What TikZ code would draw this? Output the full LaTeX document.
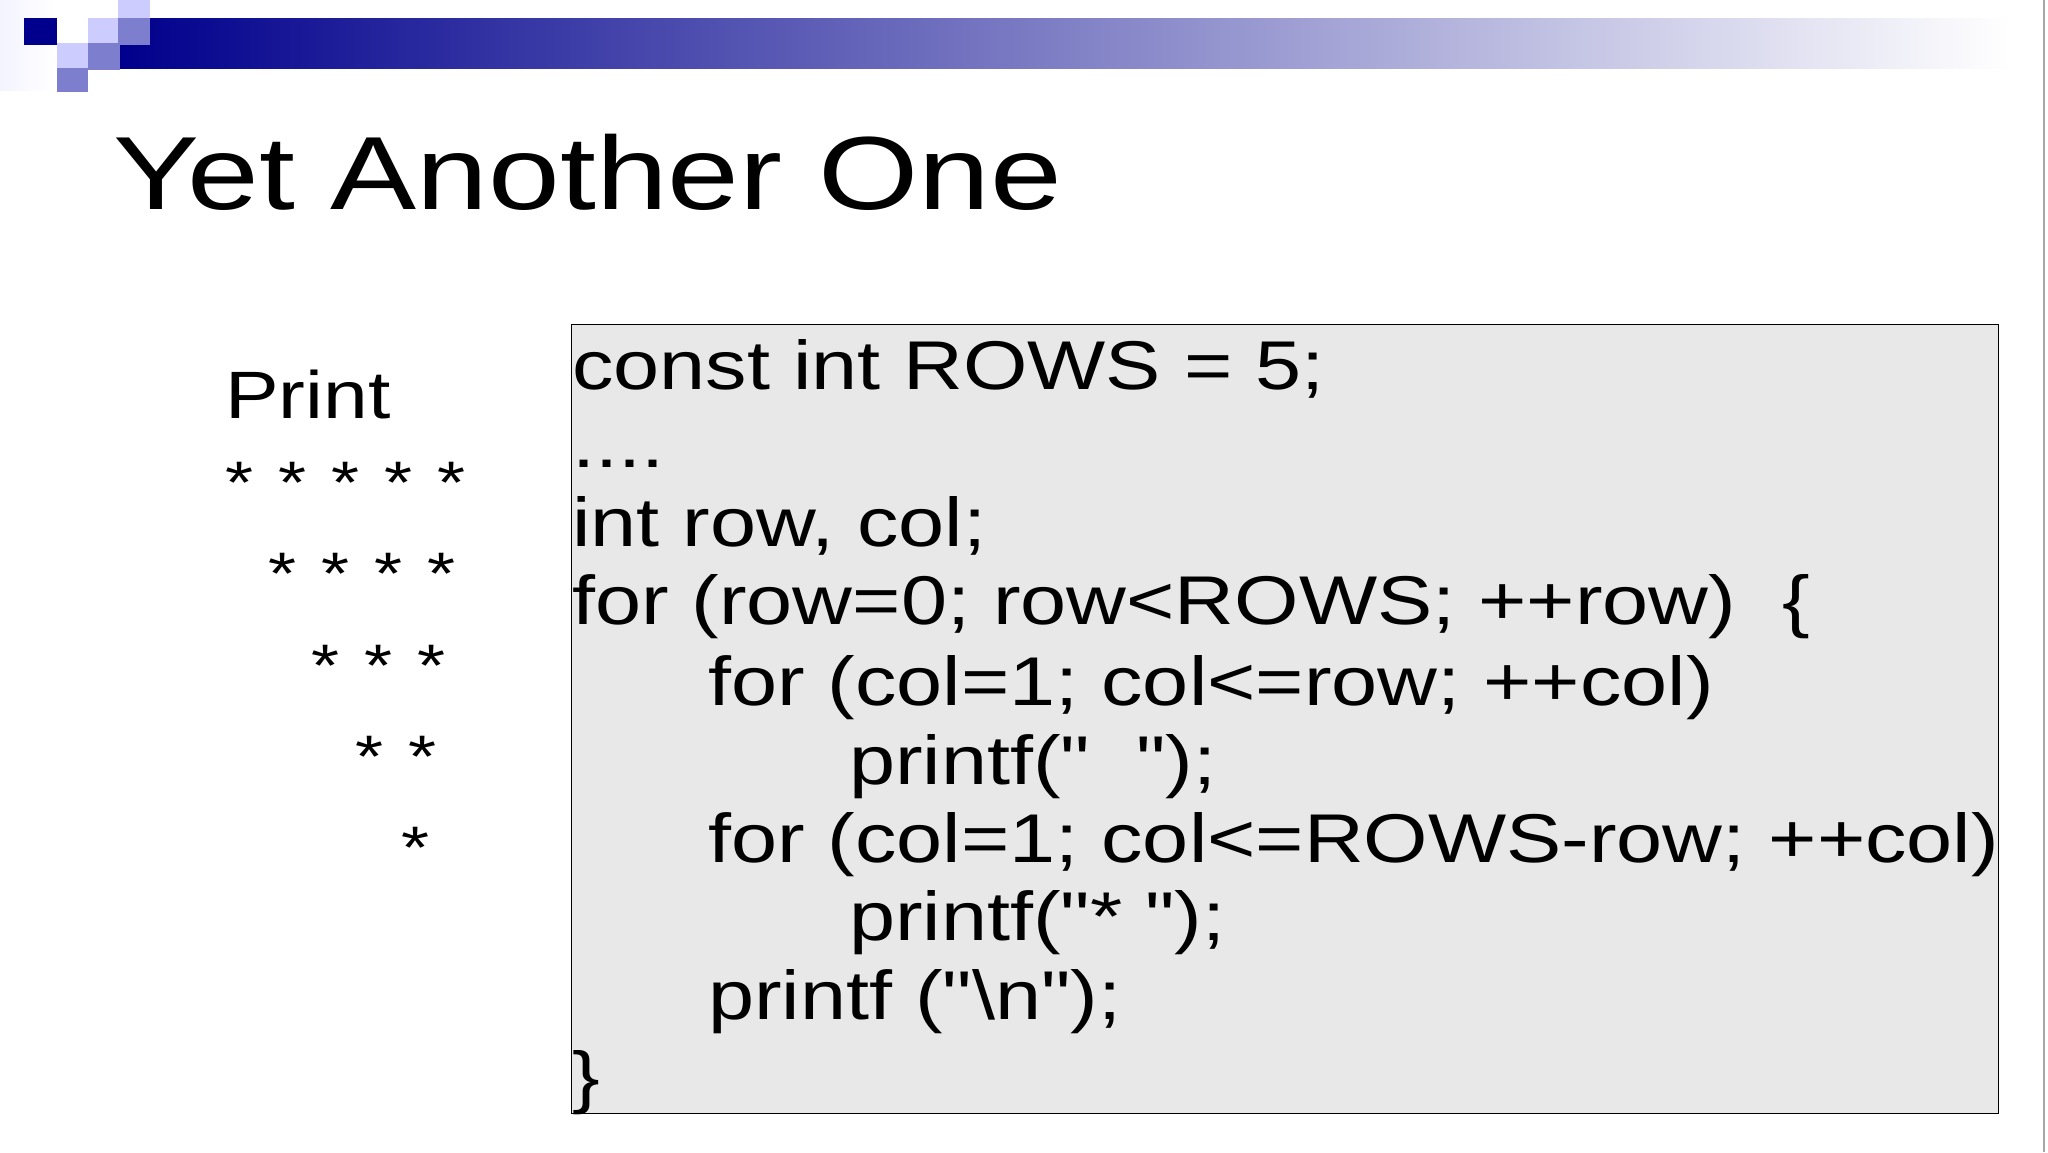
\documentclass[tikz,border=0pt]{standalone}
\usepackage{fontspec}
\setmainfont[FakeStretch=1.2]{Liberation Sans}
\newfontfamily\codefont[FakeStretch=1.2]{Liberation Sans}
\newfontfamily\titlefont[FakeStretch=1.24]{Liberation Sans}
\newcommand{\dq}{\char34\relax}
\begin{document}
\begin{tikzpicture}[x=1pt,y=1pt,
  code/.style={anchor=base west,inner sep=0pt,font=\codefont\fontsize{69}{80}\selectfont},
  star/.style={anchor=base west,inner sep=0pt,font=\codefont\fontsize{67}{80}\selectfont},
  astr/.style={anchor=base west,inner sep=0pt,font=\codefont\fontsize{60}{80}\selectfont}]
\useasboundingbox (0,0) rectangle (2048,-1152);
\fill[white] (0,0) rectangle (2048,-1152);
% header
\shade[left color=white!85!blue!30,right color=white] (0,0) rectangle (55,-90);
\shade[left color=blue!55!black,middle color=blue!40!gray!75,right color=white] (120,-18) rectangle (2010,-68);
\fill[blue!55!black] (24,-18) rectangle (57,-45);
\fill[blue!20!white] (57,-43) rectangle (88,-68);
\fill[blue!45!gray!70] (57,-68) rectangle (88,-92);
\fill[blue!20!white] (88,-18) rectangle (120,-43);
\fill[blue!45!gray!70] (88,-43) rectangle (120,-70);
\fill[blue!20!white] (118,0) rectangle (150,-18);
\fill[blue!45!gray!70] (118,-18) rectangle (150,-45);
\draw[gray!70,line width=1.5pt] (2044,0) -- (2044,-1152);
\node[anchor=base west,inner sep=0pt,font=\titlefont\fontsize{104}{120}\selectfont] (title) at (113,-209) {Yet Another One};
% left
\node[star] (print) at (225,-418) {Print};
\node[astr] (s1) at (225,-503) {*\hspace{25pt}*\hspace{25pt}*\hspace{25pt}*\hspace{25pt}*};
\node[astr] (s2) at (268,-594) {*\hspace{25pt}*\hspace{25pt}*\hspace{25pt}*};
\node[astr] (s3) at (311,-686) {*\hspace{25pt}*\hspace{25pt}*};
\node[astr] (s4) at (355,-777) {*\hspace{25pt}*};
\node[astr] (s5) at (401,-868) {*};
% code box
\draw[fill=gray!18,line width=1pt] (571,-324) rectangle (1998,-1113);
\node[code] (c1) at (572,-389) {const int ROWS = 5;};
\node[code] (c2) at (572,-467) {....};
\node[code] (c3) at (572,-546) {int row,\ col;};
\node[code] (c4) at (572,-624) {for (row=0; row<ROWS; ++row)\ \ \{};
\node[code] (c5) at (708,-705) {for (col=1; col<=row; ++col)};
\node[code] (c6) at (849,-784) {printf(\dq\ \ \dq);};
\node[code] (c7) at (708,-862) {for (col=1; col<=ROWS-row; ++col)};
\node[code] (c8) at (849,-940) {printf(\dq* \dq);};
\node[code] (c9) at (708,-1019) {printf (\dq\textbackslash n\dq);};
\node[code] (c10) at (572,-1100) {\}};
\end{tikzpicture}
\end{document}
